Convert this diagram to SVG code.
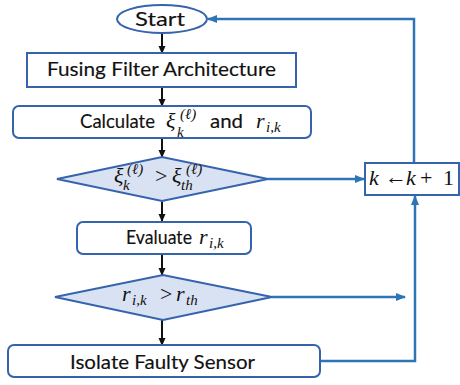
<svg xmlns="http://www.w3.org/2000/svg" width="460" height="385" viewBox="0 0 460 385">
  <defs>
    <marker id="ahBlack" markerWidth="8" markerHeight="8" refX="7" refY="4" orient="auto" markerUnits="userSpaceOnUse">
      <path d="M0,0.5 L8,4 L0,7.5 Z" fill="#111"/>
    </marker>
    <marker id="ahBlue" markerWidth="10" markerHeight="10" refX="9" refY="5" orient="auto" markerUnits="userSpaceOnUse">
      <path d="M0,1 L10,5 L0,9 Z" fill="#2e75b6"/>
    </marker>
    <style>
      .box { fill: #ffffff; stroke: #3663ad; stroke-width: 2; }
      .dec { fill: #d9e2f3; stroke: #3663ad; stroke-width: 2; }
      .lbl { font-family: Lato, "Liberation Sans", sans-serif; font-size: 20px; fill: #111; stroke: #111; stroke-width: 0.15; }
      .m { font-family: "Liberation Serif", "DejaVu Serif", serif; font-style: italic; font-size: 22px; fill: #111; }
      .ms { font-family: "Liberation Serif", "DejaVu Serif", serif; font-style: italic; font-size: 15px; fill: #111; }
      .mu { font-family: "Liberation Serif", "DejaVu Serif", serif; font-size: 22px; fill: #111; }
      .flow { stroke: #111; stroke-width: 2; fill: none; marker-end: url(#ahBlack); }
      .loopA { stroke: #2e75b6; stroke-width: 2.5; fill: none; marker-end: url(#ahBlue); }
    </style>
  </defs>

  <!-- connectors -->
  <g id="connectors">
    <line class="flow" x1="162" y1="34" x2="162" y2="53"/>
    <line class="flow" x1="162" y1="88" x2="162" y2="106"/>
    <line class="flow" x1="162" y1="139" x2="162" y2="157"/>
    <line class="flow" x1="162" y1="202" x2="162" y2="221"/>
    <line class="flow" x1="162" y1="255" x2="162" y2="275"/>
    <line class="flow" x1="162" y1="320" x2="162" y2="345"/>
    <line class="loopA" x1="268" y1="179" x2="364" y2="179"/>
    <line class="loopA" x1="272" y1="297" x2="405" y2="297"/>
    <polyline class="loopA" points="320,361 415,361 415,196"/>
    <polyline class="loopA" points="414,163 414,19 208,19"/>
  </g>

  <!-- start -->
  <g id="start">
    <ellipse class="box" cx="162" cy="19" rx="45" ry="14"/>
    <text class="lbl" x="135" y="26" textLength="50" lengthAdjust="spacingAndGlyphs">Start</text>
  </g>

  <!-- architecture -->
  <g id="fusing">
    <rect class="box" x="27" y="53" width="269" height="34"/>
    <text class="lbl" x="47" y="76" textLength="229" lengthAdjust="spacingAndGlyphs">Fusing Filter Architecture</text>
  </g>

  <!-- calculate -->
  <g id="calculate">
    <rect class="box" x="13" y="106" width="298" height="32" rx="6"/>
    <text class="lbl" x="80" y="128" textLength="75" lengthAdjust="spacingAndGlyphs">Calculate</text>
    <text class="m" x="166" y="128">ξ</text>
    <text class="ms" x="180" y="119">(ℓ)</text>
    <text class="ms" x="177" y="137">k</text>
    <text class="lbl" x="210" y="128" textLength="33" lengthAdjust="spacingAndGlyphs">and</text>
    <text class="m" x="256" y="128">r</text>
    <text class="ms" x="266" y="132">i,k</text>
  </g>

  <!-- first decision -->
  <g id="decision1">
    <polygon class="dec" points="57,179 162,157 268,179 162,201"/>
    <text class="m" x="114" y="183">ξ</text>
    <text class="ms" x="127" y="174">(ℓ)</text>
    <text class="ms" x="123" y="190">k</text>
    <text class="mu" x="155" y="183">&gt;</text>
    <text class="m" x="172" y="183">ξ</text>
    <text class="ms" x="186" y="174">(ℓ)</text>
    <text class="ms" x="181" y="190">th</text>
  </g>

  <!-- index update -->
  <g id="increment">
    <rect class="box" x="365" y="163" width="94" height="32"/>
    <text class="m" x="369" y="185">k</text>
    <text class="mu" x="385" y="184" font-size="17">←</text>
    <text class="m" x="406" y="185">k</text>
    <text class="mu" x="420" y="185">+</text>
    <text class="mu" x="443" y="185">1</text>
  </g>

  <!-- evaluate -->
  <g id="evaluate">
    <rect class="box" x="77" y="222" width="174" height="32" rx="6"/>
    <text class="lbl" x="126" y="244" textLength="66" lengthAdjust="spacingAndGlyphs">Evaluate</text>
    <text class="m" x="199" y="244">r</text>
    <text class="ms" x="209" y="248">i,k</text>
  </g>

  <!-- second decision -->
  <g id="decision2">
    <polygon class="dec" points="55,297 163,275 272,297 163,320"/>
    <text class="m" x="122" y="301">r</text>
    <text class="ms" x="132" y="305">i,k</text>
    <text class="mu" x="160" y="301">&gt;</text>
    <text class="m" x="176" y="301">r</text>
    <text class="ms" x="186" y="305">th</text>
  </g>

  <!-- isolate -->
  <g id="isolate">
    <rect class="box" x="8" y="345" width="312" height="32" rx="6"/>
    <text class="lbl" x="70" y="369" textLength="185" lengthAdjust="spacingAndGlyphs">Isolate Faulty Sensor</text>
  </g>
</svg>
